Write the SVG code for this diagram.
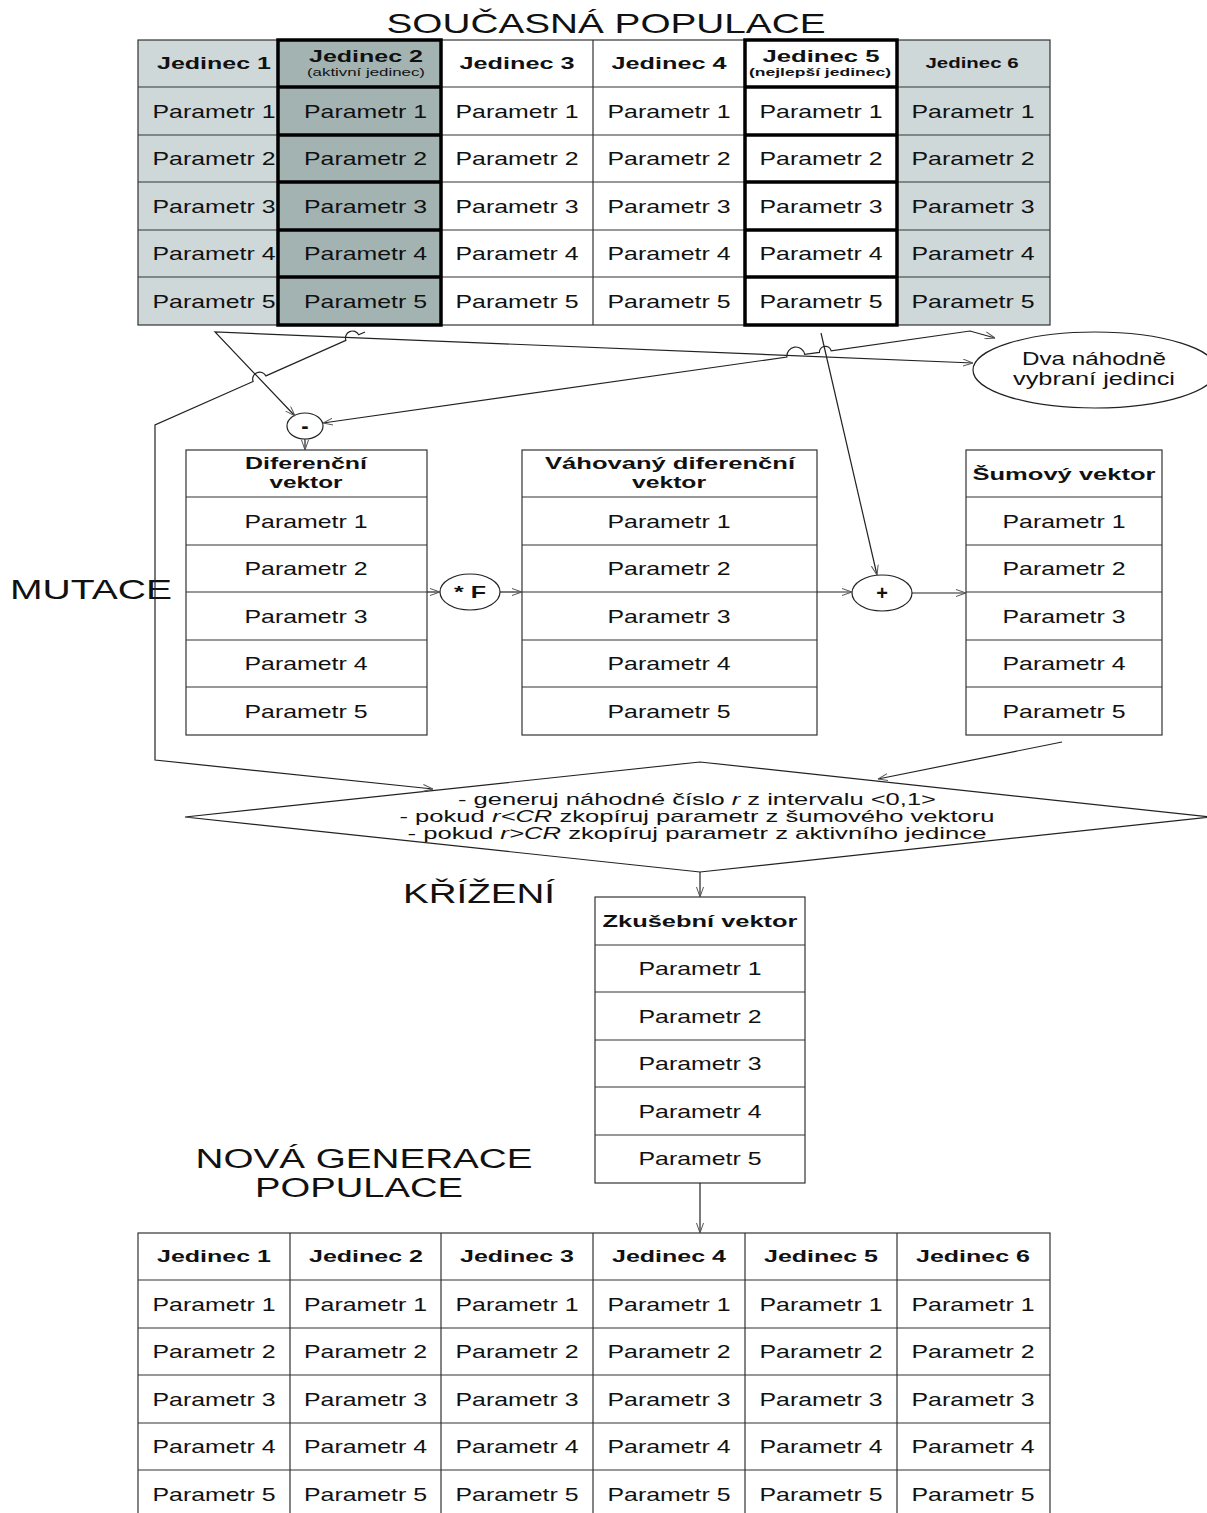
<svg xmlns="http://www.w3.org/2000/svg" width="1207" height="1513" viewBox="0 0 1207 1513">
<style>
text{font-family:"Liberation Sans",Arial,sans-serif;fill:#111;text-anchor:middle}
.p{font-size:18.5px}
.h{font-size:17px;font-weight:bold}
.big{font-size:28px}
.sm{font-size:11.5px}
.dt{font-size:17px}
.grid{stroke:#333;stroke-width:1.2;fill:none}
.thick{stroke:#000;stroke-width:3.5}
.conn{stroke:#222;stroke-width:1.2;fill:none}
.arr{marker-end:url(#arr)}
.node{fill:#fff;stroke:#222;stroke-width:1.2}
</style>
<defs>
<marker id="arr" viewBox="0 0 10 8" refX="10" refY="4" markerWidth="10" markerHeight="8" markerUnits="userSpaceOnUse" orient="auto-start-reverse">
<path d="M0,0.5 L10,4 L0,7.5" fill="none" stroke="#555" stroke-width="1"/>
</marker>
</defs>
<rect width="1207" height="1513" fill="#fff"/>

<g id="label-soucasna"><text class="big" x="606" y="33" textLength="439" lengthAdjust="spacingAndGlyphs">SOUČASNÁ POPULACE</text></g>
<g id="label-mutace"><text class="big" x="91" y="599" textLength="162" lengthAdjust="spacingAndGlyphs">MUTACE</text></g>
<g id="label-krizeni"><text class="big" x="479" y="903" textLength="152" lengthAdjust="spacingAndGlyphs">KŘÍŽENÍ</text></g>
<g id="label-nova"><text class="big" x="364" y="1168" style="font-size:27px" textLength="337" lengthAdjust="spacingAndGlyphs">NOVÁ GENERACE</text><text class="big" x="359" y="1197" style="font-size:27px" textLength="208" lengthAdjust="spacingAndGlyphs">POPULACE</text></g>

<!-- current population -->
<g id="current-population">
<rect x="138" y="40" width="140" height="285" fill="#CED8D9"/>
<rect x="897" y="40" width="153" height="285" fill="#CED8D9"/>
<rect class="grid" x="138" y="40" width="912" height="285"/>
<path class="grid" d="M290,40V325M441,40V325M593,40V325M745,40V325M897,40V325M138,87H1050M138,135H1050M138,182H1050M138,230H1050M138,277H1050"/>
<g id="cur-j2">
<rect x="278" y="40" width="163" height="285" fill="#A3B3B2" class="thick"/>
<path class="thick" d="M278,87H441M278,135H441M278,182H441M278,230H441M278,277H441"/>
</g>
<g id="cur-j5">
<rect x="745" y="40" width="152" height="285" fill="#fff" class="thick"/>
<path class="thick" d="M745,87H897M745,135H897M745,182H897M745,230H897M745,277H897"/>
</g>
<g id="cur-headers">
<text class="h" x="214" y="69" textLength="114" lengthAdjust="spacingAndGlyphs">Jedinec 1</text>
<text class="h" x="366" y="62" textLength="114" lengthAdjust="spacingAndGlyphs">Jedinec 2</text>
<text class="sm" x="366" y="76" textLength="118" lengthAdjust="spacingAndGlyphs">(aktivní jedinec)</text>
<text class="h" x="517" y="69" textLength="115" lengthAdjust="spacingAndGlyphs">Jedinec 3</text>
<text class="h" x="669" y="69" textLength="115" lengthAdjust="spacingAndGlyphs">Jedinec 4</text>
<text class="h" x="821" y="62" textLength="117" lengthAdjust="spacingAndGlyphs">Jedinec 5</text>
<text class="sm" x="820" y="76" font-weight="bold" textLength="142" lengthAdjust="spacingAndGlyphs">(nejlepší jedinec)</text>
<text class="h" x="972" y="68" style="font-size:14.5px" textLength="93" lengthAdjust="spacingAndGlyphs">Jedinec 6</text>
</g>
<g id="cur-params">
<text class="p" x="214" y="118" textLength="123" lengthAdjust="spacingAndGlyphs">Parametr 1</text>
<text class="p" x="214" y="165" textLength="123" lengthAdjust="spacingAndGlyphs">Parametr 2</text>
<text class="p" x="214" y="213" textLength="123" lengthAdjust="spacingAndGlyphs">Parametr 3</text>
<text class="p" x="214" y="260" textLength="123" lengthAdjust="spacingAndGlyphs">Parametr 4</text>
<text class="p" x="214" y="308" textLength="123" lengthAdjust="spacingAndGlyphs">Parametr 5</text>
<text class="p" x="365.5" y="118" textLength="123" lengthAdjust="spacingAndGlyphs">Parametr 1</text>
<text class="p" x="365.5" y="165" textLength="123" lengthAdjust="spacingAndGlyphs">Parametr 2</text>
<text class="p" x="365.5" y="213" textLength="123" lengthAdjust="spacingAndGlyphs">Parametr 3</text>
<text class="p" x="365.5" y="260" textLength="123" lengthAdjust="spacingAndGlyphs">Parametr 4</text>
<text class="p" x="365.5" y="308" textLength="123" lengthAdjust="spacingAndGlyphs">Parametr 5</text>
<text class="p" x="517" y="118" textLength="123" lengthAdjust="spacingAndGlyphs">Parametr 1</text>
<text class="p" x="517" y="165" textLength="123" lengthAdjust="spacingAndGlyphs">Parametr 2</text>
<text class="p" x="517" y="213" textLength="123" lengthAdjust="spacingAndGlyphs">Parametr 3</text>
<text class="p" x="517" y="260" textLength="123" lengthAdjust="spacingAndGlyphs">Parametr 4</text>
<text class="p" x="517" y="308" textLength="123" lengthAdjust="spacingAndGlyphs">Parametr 5</text>
<text class="p" x="669" y="118" textLength="123" lengthAdjust="spacingAndGlyphs">Parametr 1</text>
<text class="p" x="669" y="165" textLength="123" lengthAdjust="spacingAndGlyphs">Parametr 2</text>
<text class="p" x="669" y="213" textLength="123" lengthAdjust="spacingAndGlyphs">Parametr 3</text>
<text class="p" x="669" y="260" textLength="123" lengthAdjust="spacingAndGlyphs">Parametr 4</text>
<text class="p" x="669" y="308" textLength="123" lengthAdjust="spacingAndGlyphs">Parametr 5</text>
<text class="p" x="821" y="118" textLength="123" lengthAdjust="spacingAndGlyphs">Parametr 1</text>
<text class="p" x="821" y="165" textLength="123" lengthAdjust="spacingAndGlyphs">Parametr 2</text>
<text class="p" x="821" y="213" textLength="123" lengthAdjust="spacingAndGlyphs">Parametr 3</text>
<text class="p" x="821" y="260" textLength="123" lengthAdjust="spacingAndGlyphs">Parametr 4</text>
<text class="p" x="821" y="308" textLength="123" lengthAdjust="spacingAndGlyphs">Parametr 5</text>
<text class="p" x="973" y="118" textLength="123" lengthAdjust="spacingAndGlyphs">Parametr 1</text>
<text class="p" x="973" y="165" textLength="123" lengthAdjust="spacingAndGlyphs">Parametr 2</text>
<text class="p" x="973" y="213" textLength="123" lengthAdjust="spacingAndGlyphs">Parametr 3</text>
<text class="p" x="973" y="260" textLength="123" lengthAdjust="spacingAndGlyphs">Parametr 4</text>
<text class="p" x="973" y="308" textLength="123" lengthAdjust="spacingAndGlyphs">Parametr 5</text>
</g>
</g>

<!-- ellipse -->
<g id="two-random">
<ellipse class="node" cx="1095" cy="370" rx="122" ry="38"/>
<text x="1094" y="365" style="font-size:19px" textLength="144" lengthAdjust="spacingAndGlyphs">Dva náhodně</text>
<text x="1094" y="385" style="font-size:19px" textLength="162" lengthAdjust="spacingAndGlyphs">vybraní jedinci</text>
</g>

<g id="minus"><ellipse class="node" cx="305" cy="426" rx="18" ry="13"/><text x="305" y="433" style="font-size:22px;font-weight:bold">-</text></g>
<g id="times-f"><ellipse class="node" cx="470" cy="592" rx="30" ry="18"/><text x="470" y="598" class="h" textLength="32" lengthAdjust="spacingAndGlyphs">* F</text></g>
<g id="plus"><ellipse class="node" cx="882" cy="593" rx="30" ry="18"/><text x="882" y="600" style="font-size:20px;font-weight:bold">+</text></g>

<!-- differential vector -->
<g id="diff-vector">
<rect class="grid" x="186" y="450" width="241" height="285" fill="#fff"/>
<path class="grid" d="M186,497H427M186,545H427M186,592H427M186,640H427M186,687H427"/>
<text class="h" x="306" y="469" textLength="122" lengthAdjust="spacingAndGlyphs">Diferenční</text>
<text class="h" x="306" y="488" textLength="73" lengthAdjust="spacingAndGlyphs">vektor</text>
<text class="p" x="306" y="528" textLength="123" lengthAdjust="spacingAndGlyphs">Parametr 1</text>
<text class="p" x="306" y="575" textLength="123" lengthAdjust="spacingAndGlyphs">Parametr 2</text>
<text class="p" x="306" y="623" textLength="123" lengthAdjust="spacingAndGlyphs">Parametr 3</text>
<text class="p" x="306" y="670" textLength="123" lengthAdjust="spacingAndGlyphs">Parametr 4</text>
<text class="p" x="306" y="718" textLength="123" lengthAdjust="spacingAndGlyphs">Parametr 5</text>
</g>

<g id="weighted-vector">
<rect class="grid" x="522" y="450" width="295" height="285" fill="#fff"/>
<path class="grid" d="M522,497H817M522,545H817M522,592H817M522,640H817M522,687H817"/>
<text class="h" x="670" y="469" textLength="250" lengthAdjust="spacingAndGlyphs">Váhovaný diferenční</text>
<text class="h" x="669" y="488" textLength="74" lengthAdjust="spacingAndGlyphs">vektor</text>
<text class="p" x="669" y="528" textLength="123" lengthAdjust="spacingAndGlyphs">Parametr 1</text>
<text class="p" x="669" y="575" textLength="123" lengthAdjust="spacingAndGlyphs">Parametr 2</text>
<text class="p" x="669" y="623" textLength="123" lengthAdjust="spacingAndGlyphs">Parametr 3</text>
<text class="p" x="669" y="670" textLength="123" lengthAdjust="spacingAndGlyphs">Parametr 4</text>
<text class="p" x="669" y="718" textLength="123" lengthAdjust="spacingAndGlyphs">Parametr 5</text>
</g>

<g id="noise-vector">
<rect class="grid" x="966" y="450" width="196" height="285" fill="#fff"/>
<path class="grid" d="M966,497H1162M966,545H1162M966,592H1162M966,640H1162M966,687H1162"/>
<text class="h" x="1064" y="480" textLength="183" lengthAdjust="spacingAndGlyphs">Šumový vektor</text>
<text class="p" x="1064" y="528" textLength="123" lengthAdjust="spacingAndGlyphs">Parametr 1</text>
<text class="p" x="1064" y="575" textLength="123" lengthAdjust="spacingAndGlyphs">Parametr 2</text>
<text class="p" x="1064" y="623" textLength="123" lengthAdjust="spacingAndGlyphs">Parametr 3</text>
<text class="p" x="1064" y="670" textLength="123" lengthAdjust="spacingAndGlyphs">Parametr 4</text>
<text class="p" x="1064" y="718" textLength="123" lengthAdjust="spacingAndGlyphs">Parametr 5</text>
</g>

<!-- crossover diamond -->
<g id="crossover">
<polygon class="node" points="185,817 700,762 1210,817 700,872"/>
<text class="dt" x="697" y="805" textLength="478" lengthAdjust="spacingAndGlyphs">- generuj náhodné číslo <tspan font-style="italic">r</tspan> z intervalu &lt;0,1&gt;</text>
<text class="dt" x="697" y="822" textLength="595" lengthAdjust="spacingAndGlyphs">- pokud <tspan font-style="italic">r&lt;CR</tspan> zkopíruj parametr z šumového vektoru</text>
<text class="dt" x="697" y="839" textLength="579" lengthAdjust="spacingAndGlyphs">- pokud <tspan font-style="italic">r&gt;CR</tspan> zkopíruj parametr z aktivního jedince</text>
</g>

<g id="trial-vector">
<rect class="grid" x="595" y="897" width="210" height="286" fill="#fff"/>
<path class="grid" d="M595,945H805M595,992H805M595,1040H805M595,1087H805M595,1135H805"/>
<text class="h" x="700" y="927" textLength="195" lengthAdjust="spacingAndGlyphs">Zkušební vektor</text>
<text class="p" x="700" y="975" textLength="123" lengthAdjust="spacingAndGlyphs">Parametr 1</text>
<text class="p" x="700" y="1023" textLength="123" lengthAdjust="spacingAndGlyphs">Parametr 2</text>
<text class="p" x="700" y="1070" textLength="123" lengthAdjust="spacingAndGlyphs">Parametr 3</text>
<text class="p" x="700" y="1118" textLength="123" lengthAdjust="spacingAndGlyphs">Parametr 4</text>
<text class="p" x="700" y="1165" textLength="123" lengthAdjust="spacingAndGlyphs">Parametr 5</text>
</g>

<!-- new population -->
<g id="new-population">
<rect class="grid" x="138" y="1233" width="912" height="295"/>
<path class="grid" d="M290,1233V1513M441,1233V1513M593,1233V1513M745,1233V1513M897,1233V1513M138,1280H1050M138,1328H1050M138,1375H1050M138,1423H1050M138,1470H1050"/>
<text class="h" x="214" y="1262" textLength="114" lengthAdjust="spacingAndGlyphs">Jedinec 1</text>
<text class="h" x="366" y="1262" textLength="114" lengthAdjust="spacingAndGlyphs">Jedinec 2</text>
<text class="h" x="517" y="1262" textLength="114" lengthAdjust="spacingAndGlyphs">Jedinec 3</text>
<text class="h" x="669" y="1262" textLength="114" lengthAdjust="spacingAndGlyphs">Jedinec 4</text>
<text class="h" x="821" y="1262" textLength="114" lengthAdjust="spacingAndGlyphs">Jedinec 5</text>
<text class="h" x="973" y="1262" textLength="114" lengthAdjust="spacingAndGlyphs">Jedinec 6</text>
<text class="p" x="214" y="1311" textLength="123" lengthAdjust="spacingAndGlyphs">Parametr 1</text>
<text class="p" x="214" y="1358" textLength="123" lengthAdjust="spacingAndGlyphs">Parametr 2</text>
<text class="p" x="214" y="1406" textLength="123" lengthAdjust="spacingAndGlyphs">Parametr 3</text>
<text class="p" x="214" y="1453" textLength="123" lengthAdjust="spacingAndGlyphs">Parametr 4</text>
<text class="p" x="214" y="1501" textLength="123" lengthAdjust="spacingAndGlyphs">Parametr 5</text>
<text class="p" x="365.5" y="1311" textLength="123" lengthAdjust="spacingAndGlyphs">Parametr 1</text>
<text class="p" x="365.5" y="1358" textLength="123" lengthAdjust="spacingAndGlyphs">Parametr 2</text>
<text class="p" x="365.5" y="1406" textLength="123" lengthAdjust="spacingAndGlyphs">Parametr 3</text>
<text class="p" x="365.5" y="1453" textLength="123" lengthAdjust="spacingAndGlyphs">Parametr 4</text>
<text class="p" x="365.5" y="1501" textLength="123" lengthAdjust="spacingAndGlyphs">Parametr 5</text>
<text class="p" x="517" y="1311" textLength="123" lengthAdjust="spacingAndGlyphs">Parametr 1</text>
<text class="p" x="517" y="1358" textLength="123" lengthAdjust="spacingAndGlyphs">Parametr 2</text>
<text class="p" x="517" y="1406" textLength="123" lengthAdjust="spacingAndGlyphs">Parametr 3</text>
<text class="p" x="517" y="1453" textLength="123" lengthAdjust="spacingAndGlyphs">Parametr 4</text>
<text class="p" x="517" y="1501" textLength="123" lengthAdjust="spacingAndGlyphs">Parametr 5</text>
<text class="p" x="669" y="1311" textLength="123" lengthAdjust="spacingAndGlyphs">Parametr 1</text>
<text class="p" x="669" y="1358" textLength="123" lengthAdjust="spacingAndGlyphs">Parametr 2</text>
<text class="p" x="669" y="1406" textLength="123" lengthAdjust="spacingAndGlyphs">Parametr 3</text>
<text class="p" x="669" y="1453" textLength="123" lengthAdjust="spacingAndGlyphs">Parametr 4</text>
<text class="p" x="669" y="1501" textLength="123" lengthAdjust="spacingAndGlyphs">Parametr 5</text>
<text class="p" x="821" y="1311" textLength="123" lengthAdjust="spacingAndGlyphs">Parametr 1</text>
<text class="p" x="821" y="1358" textLength="123" lengthAdjust="spacingAndGlyphs">Parametr 2</text>
<text class="p" x="821" y="1406" textLength="123" lengthAdjust="spacingAndGlyphs">Parametr 3</text>
<text class="p" x="821" y="1453" textLength="123" lengthAdjust="spacingAndGlyphs">Parametr 4</text>
<text class="p" x="821" y="1501" textLength="123" lengthAdjust="spacingAndGlyphs">Parametr 5</text>
<text class="p" x="973" y="1311" textLength="123" lengthAdjust="spacingAndGlyphs">Parametr 1</text>
<text class="p" x="973" y="1358" textLength="123" lengthAdjust="spacingAndGlyphs">Parametr 2</text>
<text class="p" x="973" y="1406" textLength="123" lengthAdjust="spacingAndGlyphs">Parametr 3</text>
<text class="p" x="973" y="1453" textLength="123" lengthAdjust="spacingAndGlyphs">Parametr 4</text>
<text class="p" x="973" y="1501" textLength="123" lengthAdjust="spacingAndGlyphs">Parametr 5</text>
</g>

<!-- connectors -->
<g id="connectors">
<path class="conn" marker-start="url(#arr)" marker-end="url(#arr)" d="M973,363 L215,332 L295,416"/>
<path class="conn" marker-start="url(#arr)" marker-end="url(#arr)" d="M323,423 L786.9,357 A9,9 0 0 1 804.7,354.4 L819.4,352.4 A6,6 0 0 1 831.2,350.8 L970,331 L995,338"/>
<path class="conn arr" d="M365,332 L358.7,334.8 A7,7 0 0 0 345.9,340.4 L265.9,375.9 A7,7 0 0 0 253.1,381.5 L155,425 L155,760 L433,789"/>
<path class="conn arr" d="M821,333 L877,575"/>
<path class="conn arr" d="M305,439 L305,450"/>
<path class="conn arr" d="M427,592 L440,592"/>
<path class="conn arr" d="M500,592 L522,592"/>
<path class="conn arr" d="M817,592 L852,592"/>
<path class="conn arr" d="M912,593 L966,593"/>
<path class="conn arr" d="M1062,742 L878,779"/>
<path class="conn arr" d="M700,872 L700,897"/>
<path class="conn arr" d="M700,1183 L700,1233"/>
</g>
</svg>
